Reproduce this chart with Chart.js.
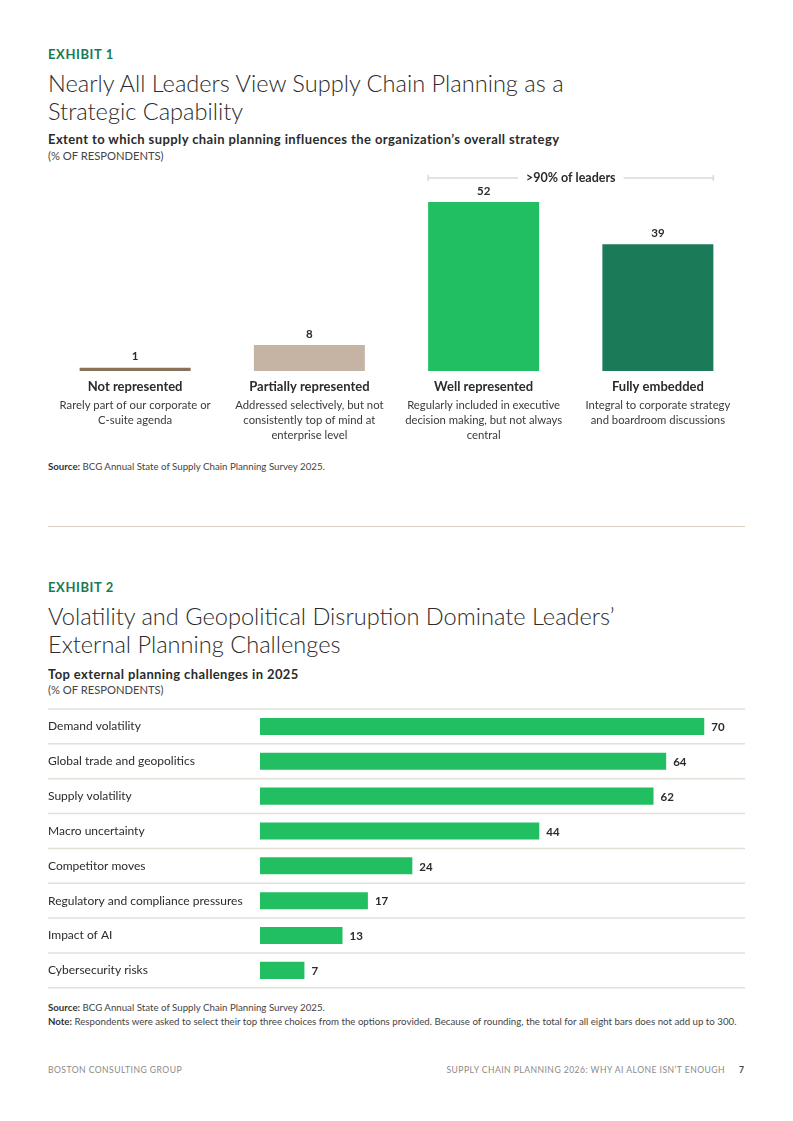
<!DOCTYPE html>
<html><head><meta charset="utf-8">
<script src="https://cdn.jsdelivr.net/npm/chart.js@4.4.1/dist/chart.umd.min.js"></script>
<style>
html,body{margin:0;padding:0;background:#fff;}
body{width:793px;height:1121px;position:relative;font-family:Lato,'Liberation Sans',sans-serif;color:#2b2b2b;overflow:hidden;}
.t{position:absolute;left:48px;white-space:nowrap;}
.ex{font-weight:700;color:#197A56;font-size:13px;line-height:16px;letter-spacing:0.6px;}
.ti{font-weight:300;font-size:23.6px;line-height:28px;color:#2b2b2b;}
.st{font-weight:700;font-size:13px;line-height:16px;color:#2b2b2b;letter-spacing:0.4px;}
.un{font-size:11.2px;line-height:14px;color:#444;}
.src{font-size:9.7px;line-height:14px;color:#444;}
.src b{font-weight:700;color:#333;}
.rule{position:absolute;left:48px;width:697px;top:526px;height:1px;background:#D9D0C3;}
.ft{position:absolute;top:1063px;font-size:8.6px;line-height:14px;color:#8a8a8a;letter-spacing:0.45px;white-space:nowrap;}
canvas{position:absolute;}
</style></head>
<body>
<div class="t ex" style="top:46px">EXHIBIT 1</div>
<div class="t ti" style="top:69px">Nearly All Leaders View Supply Chain Planning as a<br>Strategic Capability</div>
<div class="t st" style="top:131px">Extent to which supply chain planning influences the organization’s overall strategy</div>
<div class="t un" style="top:149px">(% OF RESPONDENTS)</div>
<canvas id="c1" width="697" height="290" style="left:48px;top:160px;width:697px;height:290px"></canvas>
<div class="t src" style="top:459px"><b>Source:</b> BCG Annual State of Supply Chain Planning Survey 2025.</div>
<div class="rule"></div>
<div class="t ex" style="top:579px">EXHIBIT 2</div>
<div class="t ti" style="top:602px">Volatility and Geopolitical Disruption Dominate Leaders’<br>External Planning Challenges</div>
<div class="t st" style="top:666px">Top external planning challenges in 2025</div>
<div class="t un" style="top:683px">(% OF RESPONDENTS)</div>
<canvas id="c2" width="697" height="295" style="left:48px;top:700px;width:697px;height:295px"></canvas>
<div class="t src" style="top:1000px"><b>Source:</b> BCG Annual State of Supply Chain Planning Survey 2025.</div>
<div class="t src" style="top:1014px"><b>Note:</b> Respondents were asked to select their top three choices from the options provided. Because of rounding, the total for all eight bars does not add up to 300.</div>
<div class="ft" style="left:48px">BOSTON CONSULTING GROUP</div>
<div class="ft" style="right:68px">SUPPLY CHAIN PLANNING 2026: WHY AI ALONE ISN’T ENOUGH</div>
<div class="ft" style="left:739px;color:#444;font-weight:700">7</div>
<script>
// ---------- Exhibit 1 data ----------
const cats1 = ['Not represented','Partially represented','Well represented','Fully embedded'];
const desc1 = [
  ['Rarely part of our corporate or','C-suite agenda'],
  ['Addressed selectively, but not','consistently top of mind at','enterprise level'],
  ['Regularly included in executive','decision making, but not always','central'],
  ['Integral to corporate strategy','and boardroom discussions']
];
const vals1 = [1, 8, 52, 39];
const colors1 = ['#8B7159','#C5B4A4','#22BF62','#1B7A57'];
const bracketText = '>90% of leaders';

// ---------- Exhibit 2 data ----------
const cats2 = ['Demand volatility','Global trade and geopolitics','Supply volatility','Macro uncertainty','Competitor moves','Regulatory and compliance pressures','Impact of AI','Cybersecurity risks'];
const vals2 = [70, 64, 62, 44, 24, 17, 13, 7];
const color2 = '#22BF62';

const FONT = "Lato, 'Liberation Sans', sans-serif";

const plug1 = {
  id:'p1',
  afterDatasetsDraw(chart){
    const ctx = chart.ctx, meta = chart.getDatasetMeta(0), ca = chart.chartArea;
    ctx.save();
    ctx.textAlign = 'center'; ctx.textBaseline = 'middle';
    meta.data.forEach((bar, i) => {
      ctx.fillStyle = '#2b2b2b';
      ctx.font = `700 11.5px ${FONT}`;
      ctx.fillText(String(vals1[i]), bar.x, bar.y - 11);
      ctx.font = `700 13px ${FONT}`;
      ctx.fillText(cats1[i], bar.x, ca.bottom + 16);
      ctx.font = `400 11.3px ${FONT}`;
      ctx.fillStyle = '#3a3a3a';
      desc1[i].forEach((ln, j) => ctx.fillText(ln, bar.x, ca.bottom + 34 + j * 15));
    });
    // bracket over last two bars
    const b2 = meta.data[2], b3 = meta.data[3];
    const l = b2.x - b2.width / 2, r = b3.x + b3.width / 2, y = ca.top + 2;
    const cx = (l + r) / 2;
    ctx.font = `700 12.5px ${FONT}`;
    const tw = ctx.measureText(bracketText).width;
    ctx.strokeStyle = '#DADADA'; ctx.lineWidth = 1.5;
    ctx.beginPath();
    ctx.moveTo(l, y); ctx.lineTo(cx - tw / 2 - 8, y);
    ctx.moveTo(cx + tw / 2 + 8, y); ctx.lineTo(r, y);
    ctx.moveTo(l, y - 3); ctx.lineTo(l, y + 3);
    ctx.moveTo(r, y - 3); ctx.lineTo(r, y + 3);
    ctx.stroke();
    ctx.fillStyle = '#2b2b2b';
    ctx.fillText(bracketText, cx, y);
    ctx.restore();
  }
};

new Chart(document.getElementById('c1'), {
  type:'bar',
  data:{ labels:cats1, datasets:[{ data:vals1, backgroundColor:colors1, borderWidth:0, barPercentage:0.637, categoryPercentage:1 }]},
  options:{
    responsive:false, animation:false,
    layout:{ padding:{ top:16, bottom:79, left:0, right:0 } },
    plugins:{ legend:{display:false}, tooltip:{enabled:false} },
    scales:{
      x:{ display:false },
      y:{ display:false, min:0, max:60 }
    }
  },
  plugins:[plug1]
});

const plug2 = {
  id:'p2',
  beforeDatasetsDraw(chart){
    const ctx = chart.ctx, ys = chart.scales.y;
    const px = cats2.map((_, i) => ys.getPixelForValue(i));
    const step = px.length > 1 ? px[1] - px[0] : 0;
    const lines = [px[0] - step / 2].concat(px.map(p => p + step / 2));
    ctx.save();
    ctx.strokeStyle = '#E4DFD7'; ctx.lineWidth = 1.5;
    lines.forEach(y => { ctx.beginPath(); ctx.moveTo(0, y); ctx.lineTo(chart.width, y); ctx.stroke(); });
    ctx.restore();
  },
  afterDatasetsDraw(chart){
    const ctx = chart.ctx, meta = chart.getDatasetMeta(0);
    ctx.save();
    ctx.font = `700 11.5px ${FONT}`;
    ctx.fillStyle = '#2b2b2b';
    ctx.textAlign = 'left'; ctx.textBaseline = 'middle';
    meta.data.forEach((bar, i) => ctx.fillText(String(vals2[i]), bar.x + 7, bar.y + 1));
    ctx.restore();
  }
};

new Chart(document.getElementById('c2'), {
  type:'bar',
  data:{ labels:cats2, datasets:[{ data:vals2, backgroundColor:color2, borderWidth:0, barPercentage:0.49, categoryPercentage:1 }]},
  options:{
    indexAxis:'y',
    responsive:false, animation:false,
    layout:{ padding:{ top:9, bottom:7, left:0, right:9 } },
    plugins:{ legend:{display:false}, tooltip:{enabled:false} },
    scales:{
      x:{ display:false, min:0, max:75 },
      y:{
        grid:{ display:false, drawTicks:false }, border:{ display:false },
        ticks:{ crossAlign:'far', padding:0, color:'#2b2b2b', font:{ family:FONT, size:12 } },
        afterFit(scale){ scale.width = 212; }
      }
    }
  },
  plugins:[plug2]
});
</script>
</body></html>
